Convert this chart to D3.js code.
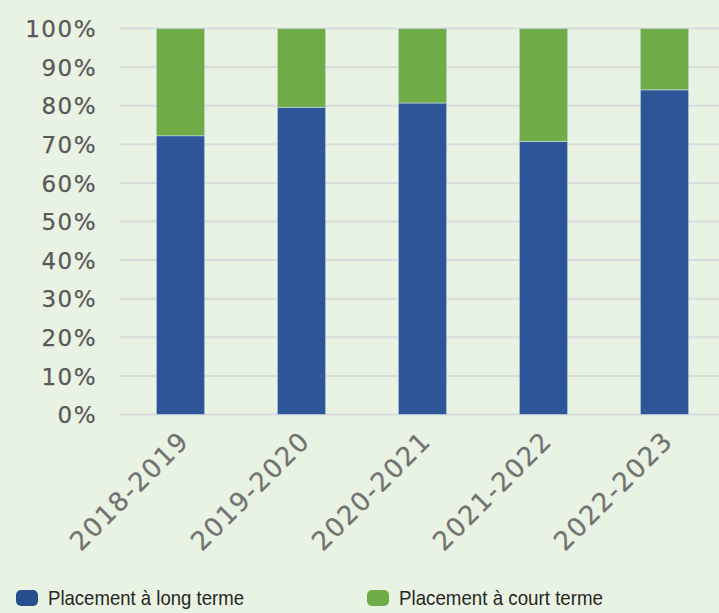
<!DOCTYPE html>
<html>
<head>
<meta charset="utf-8">
<script src="https://cdn.jsdelivr.net/npm/d3@7"></script>
<style>
  html, body { margin: 0; padding: 0; background: #e9f3e4; }
  svg { display: block; }
</style>
</head>
<body>
<script>
const years = ["2018-2019", "2019-2020", "2020-2021", "2021-2022", "2022-2023"];
const longTerme = [72.2, 79.6, 80.7, 70.7, 84.1];
const courtTerme = [27.8, 20.4, 19.3, 29.3, 15.9];
const seriesNames = ["Placement à long terme", "Placement à court terme"];
const seriesColors = ["#2e5597", "#70ac47"];
const yTicks = [0, 10, 20, 30, 40, 50, 60, 70, 80, 90, 100];

const W = 719, H = 613;
const svg = d3.select("body").append("svg")
  .attr("width", W).attr("height", H);

svg.append("rect").attr("width", W).attr("height", H).attr("fill", "#e9f3e4");

const x = d3.scaleBand()
  .domain(years)
  .range([120, 725])
  .paddingInner(0.6)
  .paddingOuter(0.3);

const y = d3.scaleLinear()
  .domain([0, 100])
  .range([414.5, 28.5]);

// gridlines
svg.append("g")
  .selectAll("line")
  .data(yTicks)
  .enter().append("line")
    .attr("x1", 120).attr("x2", W)
    .attr("y1", d => y(d)).attr("y2", d => y(d))
    .attr("stroke", "#d9dcdc")
    .attr("stroke-width", 2);

// y axis labels
const yAxis = svg.append("g")
  .attr("transform", "translate(97,0)")
  .call(d3.axisLeft(y).tickValues(yTicks).tickFormat(d => d + "%").tickSize(0).tickPadding(0));
yAxis.select(".domain").remove();
yAxis.selectAll("text")
  .attr("fill", "#595959")
  .attr("stroke", "#595959")
  .attr("stroke-width", 0.25)
  .attr("font-family", "DejaVu Sans")
  .attr("font-size", "23px")
  .attr("letter-spacing", "1.5px")
  .attr("dy", "0.36em");

// stacked bars
const rows = years.map((yr, i) => ({year: yr, long: longTerme[i], court: courtTerme[i]}));
const stack = d3.stack().keys(["long", "court"])(rows);

svg.append("g")
  .selectAll("g")
  .data(stack)
  .enter().append("g")
    .attr("fill", (d, i) => seriesColors[i])
  .selectAll("rect")
  .data(d => d)
  .enter().append("rect")
    .attr("x", d => x(d.data.year))
    .attr("width", x.bandwidth())
    .attr("y", d => y(d[1]))
    .attr("height", d => y(d[0]) - y(d[1]))
    .attr("stroke", "#c9dbe8")
    .attr("stroke-width", 0.6);

// x axis labels
const xAxis = svg.append("g")
  .attr("transform", "translate(0,414.5)")
  .call(d3.axisBottom(x).tickSize(0).tickPadding(0));
xAxis.select(".domain").remove();
xAxis.selectAll("text")
  .attr("fill", "#727272")
  .attr("stroke", "#727272")
  .attr("stroke-width", 0.25)
  .attr("font-family", "DejaVu Sans")
  .attr("font-size", "26px")
  .attr("letter-spacing", "1.5px")
  .attr("text-anchor", "end")
  .attr("dy", null)
  .attr("transform", "translate(10,28) rotate(-45)");

// legend
const legendX = [16, 367];
const legendLen = [196, 204];
const legend = svg.append("g")
  .selectAll("g")
  .data(seriesNames)
  .enter().append("g")
    .attr("transform", (d, i) => `translate(${legendX[i]},590)`);
legend.append("rect")
  .attr("width", 22).attr("height", 16).attr("rx", 5)
  .attr("fill", (d, i) => i === 0 ? "#264f8c" : seriesColors[i]);
legend.append("text")
  .attr("x", 32).attr("y", 15)
  .attr("font-family", "Liberation Sans Narrow, Arial Narrow, sans-serif")
  .attr("font-size", "21px")
  .attr("fill", "#262626")
  .attr("textLength", (d, i) => legendLen[i])
  .attr("lengthAdjust", "spacingAndGlyphs")
  .text(d => d);
</script>
</body>
</html>
